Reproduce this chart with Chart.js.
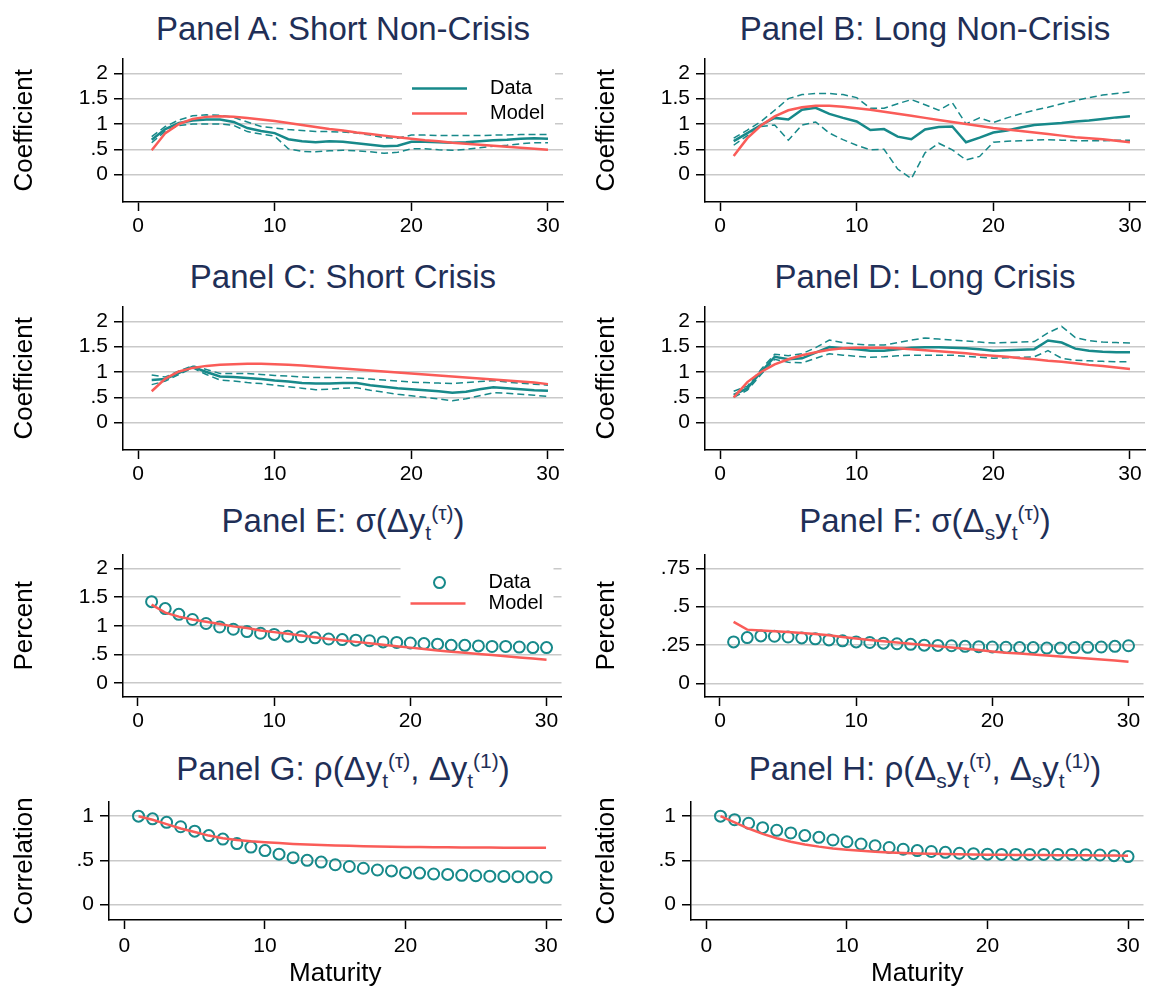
<!DOCTYPE html>
<html>
<head>
<meta charset="utf-8">
<script src="https://cdn.jsdelivr.net/npm/chart.js@4"></script>
<style>
  body { margin: 0; background: #fff; width: 1151px; height: 989px; position: relative; overflow: hidden;
         font-family: "Liberation Sans", Arial, Helvetica, sans-serif; }
  .ttl { position: absolute; width: 600px; text-align: center; font-size: 33px; line-height: 36px;
         color: #1f2f57; white-space: nowrap; }
  .ttl sub, .ttl sup { line-height: 0; font-size: 21px; }
  .ttl sub { vertical-align: -8px; }
  .ttl sup { vertical-align: 12px; }
  canvas { position: absolute; }
</style>
</head>
<body>
<div class="ttl" style="left:43px; top:11px">Panel A: Short Non-Crisis</div>
<div class="ttl" style="left:625px; top:11px">Panel B: Long Non-Crisis</div>
<div class="ttl" style="left:43px; top:259px">Panel C: Short Crisis</div>
<div class="ttl" style="left:625px; top:259px">Panel D: Long Crisis</div>
<div class="ttl" style="left:43px; top:503px">Panel E: σ(Δy<sub>t</sub><sup>(τ)</sup>)</div>
<div class="ttl" style="left:625px; top:503px">Panel F: σ(Δ<sub>s</sub>y<sub>t</sub><sup>(τ)</sup>)</div>
<div class="ttl" style="left:43px; top:751px">Panel G: ρ(Δy<sub>t</sub><sup>(τ)</sup>, Δy<sub>t</sub><sup>(1)</sup>)</div>
<div class="ttl" style="left:625px; top:751px">Panel H: ρ(Δ<sub>s</sub>y<sub>t</sub><sup>(τ)</sup>, Δ<sub>s</sub>y<sub>t</sub><sup>(1)</sup>)</div>

<script>
// maturities (years) on the x axis
const maturity = [1, 2, 3, 4, 5, 6, 7, 8, 9, 10, 11, 12, 13, 14, 15, 16, 17, 18, 19, 20, 21, 22, 23, 24, 25, 26, 27, 28, 29, 30];

const xTicks = [0, 10, 20, 30];
const xTickLabels = ['0', '10', '20', '30'];
const coefTicks = [0, 0.5, 1, 1.5, 2];
const coefTickLabels = ['0', '.5', '1', '1.5', '2'];
const pctTicksE = [0, 0.5, 1, 1.5, 2];
const pctTickLabelsE = ['0', '.5', '1', '1.5', '2'];
const pctTicksF = [0, 0.25, 0.5, 0.75];
const pctTickLabelsF = ['0', '.25', '.5', '.75'];
const corrTicks = [0, 0.5, 1];
const corrTickLabels = ['0', '.5', '1'];

// Panel A: short non-crisis
const aData  = [0.69, 0.90, 1.02, 1.07, 1.09, 1.09, 1.04, 0.92, 0.86, 0.82, 0.70, 0.66, 0.64, 0.66, 0.65, 0.62, 0.59, 0.56, 0.57, 0.65, 0.65, 0.64, 0.63, 0.64, 0.66, 0.68, 0.69, 0.71, 0.72, 0.71];
const aUpper = [0.75, 0.95, 1.08, 1.16, 1.18, 1.17, 1.13, 1.04, 0.95, 0.92, 0.89, 0.87, 0.85, 0.85, 0.84, 0.82, 0.78, 0.73, 0.72, 0.78, 0.78, 0.77, 0.77, 0.77, 0.77, 0.78, 0.78, 0.79, 0.79, 0.79];
const aLower = [0.63, 0.86, 0.97, 1.00, 1.00, 1.00, 0.97, 0.85, 0.80, 0.76, 0.51, 0.46, 0.45, 0.47, 0.48, 0.47, 0.45, 0.42, 0.44, 0.51, 0.51, 0.49, 0.48, 0.50, 0.53, 0.56, 0.58, 0.61, 0.63, 0.63];
const aModel = [0.48, 0.82, 1.00, 1.10, 1.14, 1.15, 1.14, 1.12, 1.09, 1.06, 1.02, 0.98, 0.94, 0.90, 0.87, 0.83, 0.80, 0.77, 0.74, 0.71, 0.68, 0.66, 0.63, 0.61, 0.59, 0.57, 0.55, 0.53, 0.51, 0.49];

// Panel B: long non-crisis
const bData  = [0.66, 0.82, 0.98, 1.12, 1.09, 1.28, 1.32, 1.20, 1.12, 1.05, 0.88, 0.90, 0.75, 0.70, 0.89, 0.94, 0.95, 0.64, 0.73, 0.83, 0.87, 0.93, 0.98, 1.00, 1.02, 1.05, 1.07, 1.10, 1.13, 1.15];
const bUpper = [0.72, 0.88, 1.05, 1.27, 1.50, 1.58, 1.60, 1.60, 1.58, 1.52, 1.31, 1.31, 1.40, 1.48, 1.38, 1.27, 1.42, 1.00, 1.12, 1.03, 1.12, 1.20, 1.27, 1.33, 1.40, 1.46, 1.52, 1.57, 1.60, 1.63];
const bLower = [0.58, 0.77, 0.95, 0.98, 0.68, 0.98, 1.04, 0.82, 0.69, 0.58, 0.49, 0.50, 0.11, -0.08, 0.43, 0.62, 0.49, 0.29, 0.36, 0.64, 0.66, 0.67, 0.68, 0.69, 0.68, 0.67, 0.67, 0.67, 0.68, 0.68];
const bModel = [0.37, 0.72, 0.97, 1.15, 1.27, 1.33, 1.36, 1.36, 1.34, 1.31, 1.28, 1.24, 1.20, 1.16, 1.12, 1.08, 1.04, 1.00, 0.96, 0.92, 0.89, 0.86, 0.83, 0.80, 0.77, 0.74, 0.72, 0.70, 0.67, 0.64];

// Panel C: short crisis
const cData  = [0.84, 0.86, 0.98, 1.10, 1.00, 0.91, 0.90, 0.88, 0.86, 0.83, 0.81, 0.78, 0.77, 0.77, 0.78, 0.78, 0.74, 0.71, 0.68, 0.66, 0.64, 0.62, 0.59, 0.61, 0.66, 0.70, 0.68, 0.66, 0.64, 0.63];
const cUpper = [0.94, 0.90, 1.02, 1.12, 1.05, 0.97, 0.97, 0.97, 0.95, 0.93, 0.92, 0.90, 0.89, 0.89, 0.89, 0.88, 0.86, 0.84, 0.82, 0.80, 0.79, 0.78, 0.77, 0.79, 0.81, 0.83, 0.80, 0.78, 0.76, 0.74];
const cLower = [0.75, 0.82, 0.95, 1.08, 0.95, 0.84, 0.82, 0.79, 0.77, 0.74, 0.71, 0.68, 0.65, 0.66, 0.68, 0.69, 0.64, 0.60, 0.56, 0.53, 0.50, 0.47, 0.43, 0.47, 0.53, 0.59, 0.58, 0.56, 0.54, 0.52];
const cModel = [0.62, 0.87, 1.01, 1.08, 1.12, 1.14, 1.15, 1.16, 1.16, 1.15, 1.14, 1.13, 1.11, 1.09, 1.07, 1.05, 1.03, 1.01, 0.99, 0.97, 0.95, 0.93, 0.91, 0.89, 0.87, 0.85, 0.83, 0.81, 0.79, 0.76];

// Panel D: long crisis
const dData  = [0.55, 0.68, 1.00, 1.30, 1.25, 1.27, 1.38, 1.49, 1.47, 1.45, 1.42, 1.42, 1.45, 1.48, 1.49, 1.49, 1.48, 1.47, 1.45, 1.42, 1.43, 1.44, 1.45, 1.62, 1.58, 1.46, 1.42, 1.40, 1.39, 1.39];
const dUpper = [0.62, 0.72, 1.05, 1.35, 1.32, 1.36, 1.48, 1.63, 1.58, 1.55, 1.53, 1.53, 1.58, 1.63, 1.67, 1.65, 1.63, 1.61, 1.59, 1.57, 1.58, 1.59, 1.60, 1.77, 1.90, 1.68, 1.62, 1.59, 1.58, 1.57];
const dLower = [0.50, 0.64, 0.95, 1.25, 1.19, 1.18, 1.27, 1.36, 1.33, 1.31, 1.29, 1.30, 1.32, 1.33, 1.33, 1.33, 1.33, 1.31, 1.29, 1.27, 1.28, 1.29, 1.30, 1.42, 1.27, 1.23, 1.22, 1.21, 1.20, 1.20];
const dModel = [0.50, 0.80, 1.00, 1.15, 1.25, 1.33, 1.39, 1.44, 1.47, 1.48, 1.48, 1.48, 1.47, 1.45, 1.43, 1.41, 1.39, 1.37, 1.34, 1.32, 1.30, 1.27, 1.25, 1.22, 1.20, 1.17, 1.14, 1.12, 1.09, 1.06];

// Panel E: volatility of yield changes
const eData  = [1.42, 1.30, 1.20, 1.11, 1.04, 0.98, 0.94, 0.90, 0.87, 0.85, 0.82, 0.81, 0.79, 0.77, 0.76, 0.75, 0.74, 0.72, 0.71, 0.70, 0.69, 0.68, 0.66, 0.66, 0.65, 0.64, 0.64, 0.63, 0.62, 0.62];
const eModel = [1.37, 1.23, 1.16, 1.11, 1.07, 1.03, 0.99, 0.96, 0.92, 0.89, 0.86, 0.83, 0.80, 0.77, 0.745, 0.72, 0.695, 0.67, 0.645, 0.62, 0.595, 0.57, 0.55, 0.53, 0.51, 0.49, 0.47, 0.45, 0.43, 0.41];

// Panel F: volatility of spread changes
const fData  = [0.270, 0.298, 0.309, 0.307, 0.302, 0.296, 0.290, 0.283, 0.277, 0.270, 0.266, 0.262, 0.258, 0.254, 0.249, 0.247, 0.245, 0.241, 0.239, 0.237, 0.235, 0.233, 0.233, 0.230, 0.230, 0.233, 0.235, 0.237, 0.241, 0.245];
const fModel = [0.400, 0.350, 0.345, 0.340, 0.335, 0.328, 0.322, 0.314, 0.302, 0.292, 0.283, 0.275, 0.266, 0.258, 0.250, 0.242, 0.234, 0.225, 0.217, 0.208, 0.200, 0.194, 0.188, 0.181, 0.175, 0.168, 0.162, 0.156, 0.149, 0.140];

// Panel G: correlation with 1-year yield changes
const gData  = [1.00, 0.97, 0.93, 0.88, 0.83, 0.78, 0.74, 0.69, 0.65, 0.61, 0.57, 0.53, 0.50, 0.48, 0.45, 0.43, 0.41, 0.39, 0.38, 0.36, 0.355, 0.345, 0.34, 0.33, 0.325, 0.32, 0.318, 0.315, 0.31, 0.307];
const gModel = [1.00, 0.96, 0.91, 0.86, 0.82, 0.78, 0.75, 0.73, 0.715, 0.705, 0.695, 0.686, 0.679, 0.673, 0.668, 0.664, 0.66, 0.657, 0.654, 0.652, 0.65, 0.649, 0.647, 0.646, 0.645, 0.644, 0.643, 0.643, 0.642, 0.642];

// Panel H: correlation with 1-year spread changes
const hData  = [1.00, 0.96, 0.92, 0.87, 0.84, 0.81, 0.78, 0.76, 0.73, 0.71, 0.685, 0.665, 0.645, 0.625, 0.61, 0.60, 0.59, 0.58, 0.575, 0.57, 0.567, 0.567, 0.567, 0.567, 0.567, 0.567, 0.564, 0.56, 0.553, 0.542];
const hModel = [1.00, 0.93, 0.86, 0.80, 0.75, 0.71, 0.68, 0.655, 0.635, 0.62, 0.607, 0.597, 0.589, 0.583, 0.578, 0.574, 0.571, 0.568, 0.566, 0.564, 0.562, 0.561, 0.56, 0.559, 0.558, 0.557, 0.556, 0.555, 0.554, 0.553];

const teal = '#17898a';
const red = '#fa5c58';
const gridGrey = '#c9c9c9';

Chart.defaults.font.family = '"Liberation Sans", Arial, Helvetica, sans-serif';
Chart.defaults.color = '#000';

// page layout (px)
const colLeft = [0, 582];
const canvasW = 569;
const plotRight = 563;
const rowTop = [55, 303, 551, 798];
const rowBottom = [202, 450, 697, 920];
const xAxisH = [42, 42, 42, 69];
const yAxisW = [123, 123, 123, 109];
const topPad = 15;
const xMin = -1.1, xMax = 31.1;

function pts(vals) {
  return vals.map((v, i) => ({ x: maturity[i], y: v }));
}

function lineDs(label, vals, color, width, dash, order) {
  return { label, data: pts(vals), borderColor: color, borderWidth: width, borderDash: dash,
           pointRadius: 0, fill: false, tension: 0, order };
}

function circleDs(label, vals, color, order) {
  return { label, data: pts(vals), showLine: false, borderColor: color, backgroundColor: 'rgba(0,0,0,0)',
           pointRadius: 5.5, pointBorderWidth: 2, pointBorderColor: color, pointBackgroundColor: 'rgba(0,0,0,0)', order };
}

function bandSets(data, upper, lower, model) {
  return [
    lineDs('Model', model, red, 2.5, [], 0),
    lineDs('Data', data, teal, 2.5, [], 1),
    lineDs('upper', upper, teal, 1.5, [7, 4], 2),
    lineDs('lower', lower, teal, 1.5, [7, 4], 3)
  ];
}

function dotSets(data, model) {
  return [
    lineDs('Model', model, red, 2.5, [], 0),
    circleDs('Data', data, teal, 1)
  ];
}

// legend drawn inside the plot region, top right, on a white box
const insideLegend = {
  id: 'insideLegend',
  afterDatasetsDraw(chart, args, opts) {
    const { ctx, chartArea } = chart;
    const r = chartArea.right, t = chartArea.top;
    ctx.save();
    ctx.fillStyle = '#fff';
    ctx.fillRect(r - 161, t + opts.boxTop, 153, opts.boxHeight);
    ctx.font = '20px "Liberation Sans", Arial, Helvetica, sans-serif';
    ctx.textBaseline = 'middle';
    ctx.textAlign = 'left';
    opts.items.forEach(it => {
      const y = t + it.dy;
      ctx.strokeStyle = it.color;
      ctx.setLineDash([]);
      if (it.kind === 'circle') {
        ctx.lineWidth = 2;
        ctx.beginPath();
        ctx.arc(r - 122, y, 5.5, 0, Math.PI * 2);
        ctx.stroke();
      } else {
        ctx.lineWidth = 2.5;
        ctx.beginPath();
        ctx.moveTo(r - 151, y);
        ctx.lineTo(r - 96, y);
        ctx.stroke();
      }
      ctx.fillStyle = '#000';
      ctx.fillText(it.label, r - 73, y);
    });
    ctx.restore();
  }
};

const bandLegend = { boxTop: 7, boxHeight: 64, items: [
  { label: 'Data', kind: 'line', color: teal, dy: 30 },
  { label: 'Model', kind: 'line', color: red, dy: 55 }
] };
const dotLegend = { boxTop: 5, boxHeight: 58, items: [
  { label: 'Data', kind: 'circle', color: teal, dy: 28 },
  { label: 'Model', kind: 'line', color: red, dy: 49 }
] };

const panels = [
  { col: 0, row: 0, yTitle: 'Coefficient', yMin: -0.54, yMax: 2.29, yTicks: coefTicks, yLabels: coefTickLabels,
    datasets: bandSets(aData, aUpper, aLower, aModel), legend: bandLegend },
  { col: 1, row: 0, yTitle: 'Coefficient', yMin: -0.54, yMax: 2.29, yTicks: coefTicks, yLabels: coefTickLabels,
    datasets: bandSets(bData, bUpper, bLower, bModel) },
  { col: 0, row: 1, yTitle: 'Coefficient', yMin: -0.54, yMax: 2.29, yTicks: coefTicks, yLabels: coefTickLabels,
    datasets: bandSets(cData, cUpper, cLower, cModel) },
  { col: 1, row: 1, yTitle: 'Coefficient', yMin: -0.54, yMax: 2.29, yTicks: coefTicks, yLabels: coefTickLabels,
    datasets: bandSets(dData, dUpper, dLower, dModel) },
  { col: 0, row: 2, yTitle: 'Percent', yMin: -0.24, yMax: 2.24, yTicks: pctTicksE, yLabels: pctTickLabelsE,
    datasets: dotSets(eData, eModel), legend: dotLegend },
  { col: 1, row: 2, yTitle: 'Percent', yMin: -0.089, yMax: 0.839, yTicks: pctTicksF, yLabels: pctTickLabelsF,
    datasets: dotSets(fData, fModel) },
  { col: 0, row: 3, yTitle: 'Correlation', yMin: -0.176, yMax: 1.165, yTicks: corrTicks, yLabels: corrTickLabels,
    datasets: dotSets(gData, gModel) },
  { col: 1, row: 3, yTitle: 'Correlation', yMin: -0.176, yMax: 1.165, yTicks: corrTicks, yLabels: corrTickLabels,
    datasets: dotSets(hData, hModel) }
];

function buildPanel(p) {
  const last = p.row === 3;
  const h = topPad + rowBottom[p.row] - rowTop[p.row] + xAxisH[p.row];
  const canvas = document.createElement('canvas');
  canvas.width = canvasW;
  canvas.height = h;
  canvas.style.left = colLeft[p.col] + 'px';
  canvas.style.top = (rowTop[p.row] - topPad) + 'px';
  canvas.style.width = canvasW + 'px';
  canvas.style.height = h + 'px';
  document.body.appendChild(canvas);

  new Chart(canvas, {
    type: 'line',
    data: { datasets: p.datasets },
    options: {
      responsive: false,
      animation: false,
      events: [],
      layout: { padding: { top: topPad, right: canvasW - plotRight, bottom: 0, left: 0 } },
      plugins: {
        legend: { display: false },
        tooltip: { enabled: false },
        insideLegend: p.legend || false
      },
      scales: {
        x: {
          type: 'linear', min: xMin, max: xMax,
          afterBuildTicks: s => { s.ticks = xTicks.map(v => ({ value: v })); },
          afterFit: s => { s.height = xAxisH[p.row]; },
          ticks: { font: { size: 21 }, padding: last ? 5 : 3, maxRotation: 0, autoSkip: false,
                   callback: (v, i) => xTickLabels[i] },
          grid: { drawOnChartArea: false, tickLength: 9, tickColor: '#000', tickWidth: 1.5 },
          border: { color: '#000', width: 1.5 },
          title: { display: last, text: 'Maturity', font: { size: 26 }, padding: { top: 0, bottom: 0 } }
        },
        y: {
          type: 'linear', min: p.yMin, max: p.yMax,
          afterBuildTicks: s => { s.ticks = p.yTicks.map(v => ({ value: v })); },
          afterFit: s => { s.width = yAxisW[p.row]; },
          ticks: { font: { size: 21 }, padding: 6, autoSkip: false, callback: (v, i) => p.yLabels[i] },
          grid: { color: gridGrey, lineWidth: 1.5, tickLength: 9, tickColor: '#000', tickWidth: 1.5 },
          border: { color: '#000', width: 1.5 },
          title: { display: true, text: p.yTitle, font: { size: 26 }, padding: { top: 9, bottom: 0 } }
        }
      }
    },
    plugins: [insideLegend]
  });
}

panels.forEach(buildPanel);
</script>
</body>
</html>
